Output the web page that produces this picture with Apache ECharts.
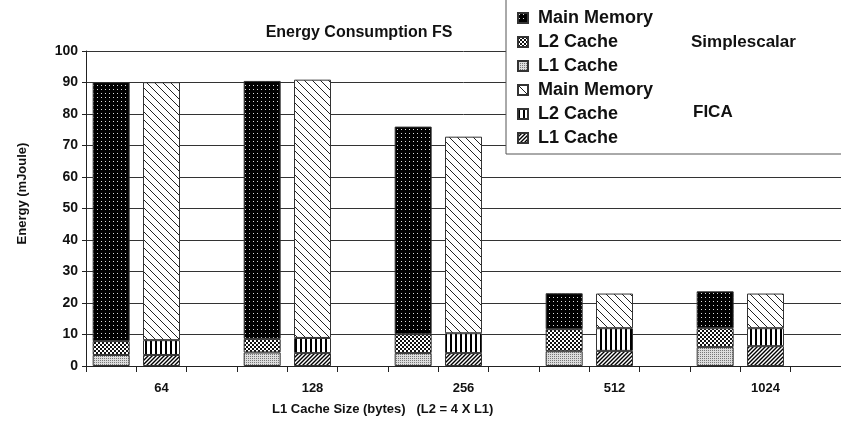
<!DOCTYPE html>
<html>
<head>
<meta charset="utf-8" />
<script src="https://cdn.jsdelivr.net/npm/echarts@6/dist/echarts.min.js"></script>
<title>Energy Consumption FS</title>
<style>
  html, body { margin: 0; padding: 0; background: #fff; }
</style>
</head>
<body>
<div id="main" style="width:841px; height:437px"></div>
<script type="text/javascript">
// L1 cache sizes (bytes)
var sizes = ['64', '128', '256', '512', '1024'];

// Simplescalar, mJoule per component
var ssL1   = [3.5, 4.3, 4.1, 4.7, 6.0];
var ssL2   = [4.4, 4.3, 6.0, 7.0, 6.0];
var ssMain = [82.2, 81.9, 65.9, 11.4, 11.7];

// FICA, mJoule per component
var ficaL1   = [3.5, 4.1, 4.1, 4.8, 6.3];
var ficaL2   = [4.7, 4.8, 6.3, 7.2, 5.7];
var ficaMain = [81.9, 82.0, 62.4, 11.0, 11.0];

// three slots per size: simplescalar, fica, gap
var cats = [];
var labelAt = {};
sizes.forEach(function (s, i) {
    cats.push('ss' + i, 'fica' + i, 'gap' + i);
    labelAt['fica' + i] = s;
});

function spread(vals, slot) {
    var out = [];
    vals.forEach(function (v) {
        for (var k = 0; k < 3; k++) out.push(k === slot ? v : '-');
    });
    return out;
}

function tile(w, h, draw) {
    var c = document.createElement('canvas');
    c.width = w; c.height = h;
    var ctx = c.getContext('2d');
    draw(ctx, w, h);
    return { image: c, repeat: 'repeat' };
}

// fill patterns
var patSsMain = tile(4, 4, function (ctx) {
    ctx.fillStyle = '#000'; ctx.fillRect(0, 0, 4, 4);
    ctx.fillStyle = '#ddd'; ctx.fillRect(1, 1, 1, 1);
});
var patSsL2 = tile(4, 4, function (ctx) {
    ctx.fillStyle = '#fff'; ctx.fillRect(0, 0, 4, 4);
    ctx.fillStyle = '#111';
    ctx.fillRect(0, 0, 2, 2); ctx.fillRect(2, 2, 2, 2);
});
var patSsL1 = tile(2, 2, function (ctx) {
    ctx.fillStyle = '#ddd'; ctx.fillRect(0, 0, 2, 2);
    ctx.fillStyle = '#777'; ctx.fillRect(0, 0, 1, 1);
});
var patFicaMain = tile(8, 8, function (ctx) {
    ctx.fillStyle = '#fff'; ctx.fillRect(0, 0, 8, 8);
    ctx.strokeStyle = '#222'; ctx.lineWidth = 1;
    ctx.beginPath();
    ctx.moveTo(0, 0); ctx.lineTo(8, 8);
    ctx.moveTo(-1, 7); ctx.lineTo(1, 9);
    ctx.moveTo(7, -1); ctx.lineTo(9, 1);
    ctx.stroke();
});
var patFicaL2 = tile(5, 2, function (ctx) {
    ctx.fillStyle = '#fff'; ctx.fillRect(0, 0, 5, 2);
    ctx.fillStyle = '#000'; ctx.fillRect(0, 0, 2, 2);
});
var patFicaL1 = tile(4, 4, function (ctx) {
    ctx.fillStyle = '#fff'; ctx.fillRect(0, 0, 4, 4);
    ctx.strokeStyle = '#000'; ctx.lineWidth = 1.4;
    ctx.beginPath();
    ctx.moveTo(0, 4); ctx.lineTo(4, 0);
    ctx.moveTo(-1, 1); ctx.lineTo(1, -1);
    ctx.moveTo(3, 5); ctx.lineTo(5, 3);
    ctx.stroke();
});

function bar(name, vals, slot, fill) {
    return {
        name: name,
        type: 'bar',
        stack: 'all',
        barWidth: 37,
        data: spread(vals, slot),
        itemStyle: { color: fill, borderColor: '#333', borderWidth: 1 }
    };
}

var font = 'Liberation Sans, Arial, sans-serif';

var myChart = echarts.init(document.getElementById('main'));
myChart.setOption({
    animation: false,
    title: {
        text: 'Energy Consumption FS',
        left: 354,
        textAlign: 'center',
        top: 20,
        textStyle: { fontFamily: font, fontSize: 16, fontWeight: 'bold', color: '#111' }
    },
    legend: {
        orient: 'vertical',
        left: 506,
        top: -1,
        padding: [10, 220, 7, 11],
        itemGap: 6,
        itemWidth: 10,
        itemHeight: 10,
        icon: 'rect',
        backgroundColor: '#fff',
        borderColor: '#555',
        borderWidth: 1,
        data: ['Main Memory|ss', 'L2 Cache|ss', 'L1 Cache|ss', 'Main Memory|fica', 'L2 Cache|fica', 'L1 Cache|fica'],
        formatter: function (n) { return n.split('|')[0]; },
        textStyle: { fontFamily: font, fontSize: 18, fontWeight: 'bold', color: '#111', lineHeight: 18, padding: [0, 0, 0, 5] }
    },
    graphic: [
        { type: 'text', left: 691, top: 34, z: 100,
          style: { text: 'Simplescalar', fontFamily: font, fontSize: 17, fontWeight: 'bold', fill: '#111' } },
        { type: 'text', left: 693, top: 104, z: 100,
          style: { text: 'FICA', fontFamily: font, fontSize: 17, fontWeight: 'bold', fill: '#111' } },
        { type: 'text', left: 272, top: 403,
          style: { text: 'L1 Cache Size (bytes)   (L2 = 4 X L1)', fontFamily: font, fontSize: 13, fontWeight: 'bold', fill: '#111' } }
    ],
    grid: { left: 86, right: -4, top: 51, bottom: 71 },
    xAxis: {
        type: 'category',
        data: cats,
        axisLine: { lineStyle: { color: '#222', width: 1 } },
        axisTick: { show: true, interval: 0, alignWithLabel: false, length: 6, lineStyle: { color: '#222', width: 1 } },
        axisLabel: {
            interval: 0,
            margin: 16,
            formatter: function (v) { return labelAt[v] || ''; },
            fontFamily: font, fontSize: 13, fontWeight: 'bold', color: '#111'
        },
        splitLine: { show: false }
    },
    yAxis: {
        type: 'value',
        min: 0,
        max: 100,
        interval: 10,
        name: 'Energy (mJoule)',
        nameLocation: 'middle',
        nameGap: 57,
        nameTextStyle: { fontFamily: font, fontSize: 13, fontWeight: 'bold', color: '#111', padding: [0, 0, 0, 30] },
        axisLine: { show: true, lineStyle: { color: '#222', width: 1 } },
        axisTick: { show: true, length: 4, lineStyle: { color: '#222' } },
        axisLabel: { margin: 8, fontFamily: font, fontSize: 14, fontWeight: 'bold', color: '#111' },
        splitLine: { lineStyle: { color: '#333', width: 1 } }
    },
    series: [
        bar('L1 Cache|ss', ssL1, 0, patSsL1),
        bar('L2 Cache|ss', ssL2, 0, patSsL2),
        bar('Main Memory|ss', ssMain, 0, patSsMain),
        bar('L1 Cache|fica', ficaL1, 1, patFicaL1),
        bar('L2 Cache|fica', ficaL2, 1, patFicaL2),
        bar('Main Memory|fica', ficaMain, 1, patFicaMain)
    ]
});
</script>
</body>
</html>
